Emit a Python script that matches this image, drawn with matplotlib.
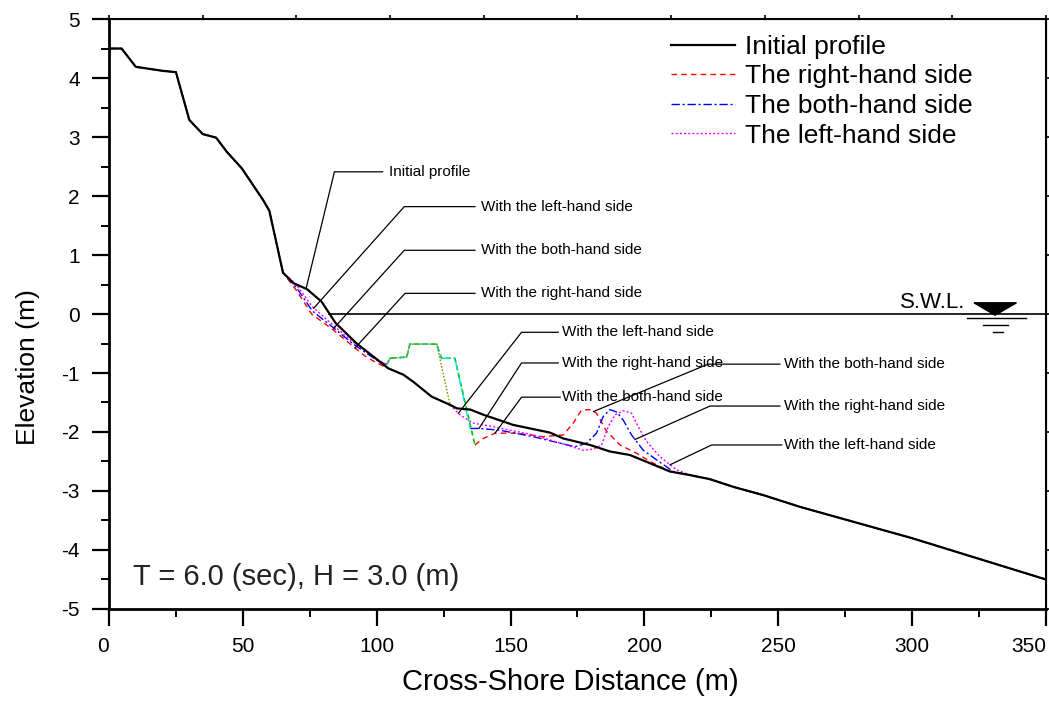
import numpy as np
import matplotlib
matplotlib.use("Agg")
import matplotlib.pyplot as plt
from matplotlib.ticker import MultipleLocator

plt.rcParams["font.family"] = ["Liberation Sans", "DejaVu Sans"]
plt.rcParams["axes.unicode_minus"] = False

# common beach face (all profiles identical here)
shore_x = [0, 4.7, 10, 20.3, 25, 30, 35, 40, 44, 49.6, 57.6, 59.9, 65]
shore_y = [4.5, 4.5, 4.19, 4.12, 4.1, 3.29, 3.05, 2.99, 2.75, 2.47, 1.93, 1.75, 0.7]

# common offshore part
tail_x = [217, 224.5, 233.2, 244.4, 258.2, 300, 350]
tail_y = [-2.73, -2.8, -2.93, -3.07, -3.27, -3.8, -4.5]

# initial profile, middle part
init_x = [69, 74, 79.4, 84.6, 92.5, 104.3, 110, 113.7, 120.5, 127.4, 130, 135,
          140, 151, 164.7, 169.7, 179.7, 187.1, 194.6, 202.1, 209.6]
init_y = [0.52, 0.42, 0.21, -0.15, -0.5, -0.92, -1.03, -1.15, -1.4, -1.54, -1.6, -1.62,
          -1.71, -1.88, -2.01, -2.11, -2.22, -2.33, -2.39, -2.53, -2.67]

# shoreward of the structure
right_pre_x = [70, 75.7, 83.8, 91.2, 95.6, 100, 104.3]
right_pre_y = [0.4, 0.0, -0.27, -0.55, -0.71, -0.83, -0.92]
both_pre_x = [70, 76, 84, 91, 96, 100, 103.7]
both_pre_y = [0.45, 0.05, -0.24, -0.5, -0.66, -0.78, -0.86]
left_pre_x = [70, 76, 84, 91, 96, 100, 103.7]
left_pre_y = [0.5, 0.12, -0.2, -0.47, -0.62, -0.76, -0.86]

# structure crest (shared) and the three seaward flanks
struct_x = [103.7, 105, 111.2, 112.4, 122.4]
struct_y = [-0.86, -0.75, -0.73, -0.51, -0.51]
flank_left_x = [127.4]
flank_left_y = [-1.54]
flank_both_x = [124.2, 129.2, 134.9]
flank_both_y = [-0.75, -0.75, -1.94]
flank_right_x = [124.2, 129.2, 136.7]
flank_right_y = [-0.75, -0.75, -2.22]

# seaward of the structure
right_post_x = [139.8, 144.2, 152.3, 162.2, 169.7, 173.4, 176.5, 179.7, 182.1, 185.9,
                190.9, 197.1, 202.1, 209.6]
right_post_y = [-2.11, -2.02, -2.02, -2.08, -2.05, -1.85, -1.63, -1.62, -1.68, -1.99,
                -2.22, -2.36, -2.5, -2.67]
both_post_x = [138.6, 146, 158.5, 168.5, 174.1, 178.4, 182.1, 184.6, 187.1, 189.6,
               192.1, 195.2, 199.6, 204.5, 210.8]
both_post_y = [-1.94, -1.97, -2.08, -2.19, -2.25, -2.19, -2.02, -1.74, -1.62, -1.66,
               -1.8, -2.05, -2.31, -2.47, -2.67]
left_post_x = [131.1, 136.1, 143.5, 158.5, 170.9, 177.1, 180.9, 184, 186.5, 189, 192.1,
               195.2, 197.7, 200.8, 205.8, 212]
left_post_y = [-1.71, -1.85, -1.91, -2.05, -2.22, -2.31, -2.29, -2.22, -1.91, -1.71, -1.64,
               -1.68, -1.91, -2.16, -2.42, -2.64]

legend_labels = ["Initial profile", "The right-hand side", "The both-hand side",
                 "The left-hand side"]
x_ticks = [0, 50, 100, 150, 200, 250, 300, 350]


def join(*parts):
    return np.concatenate([np.asarray(p, dtype=float) for p in parts])


ix = join(shore_x, init_x, tail_x)
iy = join(shore_y, init_y, tail_y)
rx = join(shore_x, right_pre_x, [np.nan], flank_right_x[-1:], right_post_x, tail_x)
ry = join(shore_y, right_pre_y, [np.nan], flank_right_y[-1:], right_post_y, tail_y)
bx = join(shore_x, both_pre_x, [np.nan], flank_both_x[-1:], both_post_x, tail_x)
by = join(shore_y, both_pre_y, [np.nan], flank_both_y[-1:], both_post_y, tail_y)
lx = join(shore_x, left_pre_x, [np.nan], flank_left_x[-1:], left_post_x, tail_x)
ly = join(shore_y, left_pre_y, [np.nan], flank_left_y[-1:], left_post_y, tail_y)

fig = plt.figure(figsize=(10.49, 7.02), dpi=100)
ax = fig.add_axes([0.1039, 0.1325, 0.8932, 0.8404])

h_r, = ax.plot(rx, ry, color="red", lw=1.0, ls=(0, (4, 3)))
h_b, = ax.plot(bx, by, color="blue", lw=1.0, ls=(0, (6, 2, 1.5, 2)))
h_l, = ax.plot(lx, ly, color="magenta", lw=1.0, ls=(0, (1.5, 1.5)))

# structure lines
ax.plot(join(struct_x, flank_right_x), join(struct_y, flank_right_y),
        color="#00c000", lw=1.2, ls=(0, (3, 2)))
ax.plot(join(struct_x, flank_both_x), join(struct_y, flank_both_y),
        color="#00e0e0", lw=1.0, ls=(0, (6, 2, 1.5, 2)))
ax.plot(join(struct_x, flank_left_x), join(struct_y, flank_left_y),
        color="#909000", lw=1.0, ls=(0, (1.2, 1.2)))

h_i, = ax.plot(ix, iy, color="black", lw=1.6)

# still water level
swl_start = 82
ax.plot([swl_start, 350], [0, 0], color="black", lw=1.2)
ax.fill([323.1, 339.0, 331.0], [0.19, 0.19, -0.02], color="black")
ax.plot([320.4, 342.5], [-0.07, -0.07], color="black", lw=1.0)
ax.plot([326.5, 335.8], [-0.19, -0.19], color="black", lw=1.0)
ax.plot([330.2, 334.0], [-0.31, -0.31], color="black", lw=1.0)
ax.text(320, 0.2, "S.W.L.", fontsize=16, ha="right", va="center")

# leader annotations: (series x, series y, target x, elbow x, elbow y, end x, text x, text)
leaders = [
    (ix, iy, 73.6, 84.2, 2.41, 102.2, 104.7, "Initial profile"),
    (lx, ly, 76.5, 110.3, 1.82, 136.7, 138.8, "With the left-hand side"),
    (bx, by, 84.0, 110.3, 1.08, 136.7, 138.8, "With the both-hand side"),
    (rx, ry, 91.9, 110.6, 0.35, 136.7, 138.8, "With the right-hand side"),
    (lx, ly, 130.5, 154.1, -0.31, 167.8, 169.1, "With the left-hand side"),
    (bx, by, 138.2, 154.1, -0.83, 167.8, 169.1, "With the right-hand side"),
    (rx, ry, 144.2, 154.1, -1.41, 168.5, 169.1, "With the both-hand side"),
    (rx, ry, 181.0, 223.8, -0.85, 250.6, 252.2, "With the both-hand side"),
    (bx, by, 196.5, 224.5, -1.56, 250.6, 252.2, "With the right-hand side"),
    (lx, ly, 209.6, 225.1, -2.22, 251.3, 252.2, "With the left-hand side"),
]
for sx, sy, tx, kx, ky, hx, txt_x, txt in leaders:
    ok = ~np.isnan(sx)
    ty = np.interp(tx, sx[ok], sy[ok])
    ax.plot([tx, kx, hx], [ty, ky, ky], color="black", lw=0.9)
    ax.text(txt_x, ky, txt, fontsize=11, ha="left", va="center")

ax.text(9, -4.46, "T = 6.0 (sec), H = 3.0 (m)", fontsize=21, ha="left", va="center",
        color="#222222")

ax.set_xlim(0, 350)
ax.set_ylim(-5, 5)
ax.set_xticks(x_ticks)
ax.xaxis.set_minor_locator(MultipleLocator(25))
ax.yaxis.set_major_locator(MultipleLocator(1))
ax.yaxis.set_minor_locator(MultipleLocator(0.5))
ax.tick_params(which="major", direction="out", length=12, width=1.6, labelsize=15,
               top=False, right=False)
ax.tick_params(which="minor", direction="out", length=6, width=1.4, top=False, right=False)
ax.tick_params(axis="x", pad=8)
ax.tick_params(axis="y", pad=9)
for s in ["left", "bottom"]:
    ax.spines[s].set_linewidth(2.0)
for s in ["top", "right"]:
    ax.spines[s].set_linewidth(1.5)

xlabels = ax.get_xticklabels()
xlabels[0].set_horizontalalignment("right")
xlabels[-1].set_horizontalalignment("right")

top = ax.secondary_xaxis("top")
top.set_xticks(np.arange(0, 351, 35))
top.tick_params(direction="out", length=3, width=1.2, labeltop=False)
right = ax.secondary_yaxis("right")
right.set_yticks(np.arange(-5, 6, 1))
right.tick_params(direction="out", length=3, width=1.2, labelright=False)

ax.set_xlabel("Cross-Shore Distance (m)", fontsize=21)
ax.xaxis.set_label_coords(0.492, -0.1)
ax.set_ylabel("Elevation (m)", fontsize=19)
ax.yaxis.set_label_coords(-0.074, 0.41)

ax.legend([h_i, h_r, h_b, h_l], legend_labels, loc="upper left", frameon=False,
          fontsize=19, handlelength=2.4, handletextpad=0.4, labelspacing=0.21,
          borderpad=0.0, borderaxespad=0.0, bbox_to_anchor=(0.600, 0.973))

fig.savefig("out.png", dpi=100)
